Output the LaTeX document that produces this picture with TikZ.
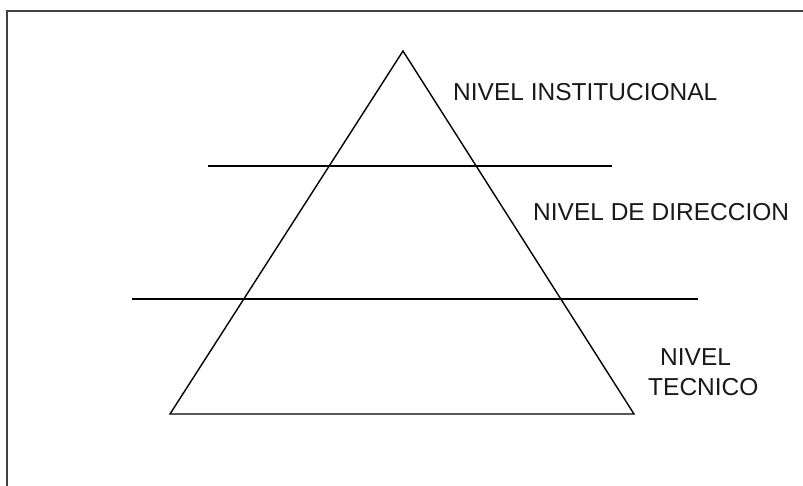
\documentclass[tikz,border=0pt]{standalone}
\usepackage{fontspec}
\setmainfont{Liberation Sans}
\begin{document}
\begin{tikzpicture}[x=1pt,y=-1pt,
  frame/.style={draw=black!75,line width=1.3pt},
  edge/.style={draw=black,line width=1.4pt,line join=miter},
  lbl/.style={anchor=base west,inner sep=0pt,font=\fontsize{24.5}{29}\selectfont,text=black!90}]
\useasboundingbox (0,0) rectangle (803,486);
\coordinate (ftl) at (7,11);
\coordinate (ftr) at (803,11);
\coordinate (fbl) at (7,486);
\draw[frame] (ftr) -- (ftl) -- (fbl);
\coordinate (apex) at (403,51);
\coordinate (bl) at (170,414);
\coordinate (br) at (634,414);
\draw[edge] (apex) -- (br) -- (bl) -- cycle;
\coordinate (l1a) at (208,166);
\coordinate (l1b) at (612,166);
\coordinate (l2a) at (132,299);
\coordinate (l2b) at (698,299);
\draw[edge] (l1a) -- (l1b);
\draw[edge] (l2a) -- (l2b);
\node[lbl] (inst) at (453,101) {NIVEL INSTITUCIONAL};
\node[lbl] (dir) at (533,221) {NIVEL DE DIRECCION};
\node[lbl] (niv) at (660,365) {NIVEL};
\node[lbl] (tec) at (648,395) {TECNICO};
\end{tikzpicture}
\end{document}
